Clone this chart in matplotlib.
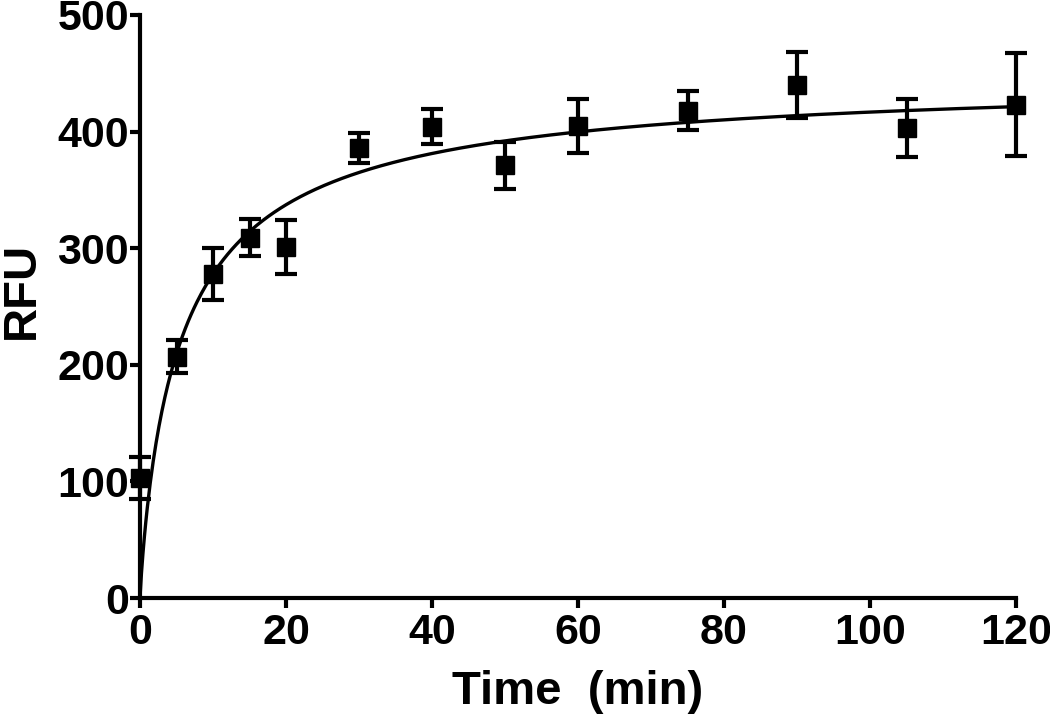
import numpy as np
import matplotlib
matplotlib.use("Agg")
import matplotlib.pyplot as plt

# datos
tiempo = [0, 5, 10, 15, 20, 30, 40, 50, 60, 75, 90, 105, 120]
rfu = [103, 207, 278, 309, 301, 386, 404, 371, 405, 418, 440, 403, 423]
error = [18, 14, 22, 16, 23, 13, 15, 20, 23, 17, 28, 25, 44]

# parametros del ajuste (curva de saturacion)
bmax = 450.0
kd = 5.84
hill = 0.89

plt.rcParams['font.family'] = ['Liberation Sans', 'DejaVu Sans']
plt.rcParams['font.weight'] = 'bold'

fig = plt.figure(figsize=(10.5, 7.17), dpi=100)
ax = fig.add_axes([140 / 1050, 1 - 598 / 717, 876 / 1050, 583 / 717])

xfit = np.linspace(0, 120, 600)
yfit = bmax * xfit**hill / (kd**hill + xfit**hill)
ax.plot(xfit, yfit, color='black', lw=2.4, clip_on=False, zorder=2)

ax.errorbar(tiempo, rfu, yerr=error, fmt='s', color='black', ms=13,
            elinewidth=3, capsize=8, capthick=3, clip_on=False, zorder=3)

ax.set_xlim(0, 120)
ax.set_ylim(0, 500)
ax.set_xticks(np.arange(0, 121, 20))
ax.set_yticks(np.arange(0, 501, 100))

ax.spines['top'].set_visible(False)
ax.spines['right'].set_visible(False)
for s in ['left', 'bottom']:
    ax.spines[s].set_linewidth(3)

ax.tick_params(axis='both', width=3, length=7, labelsize=31)
ax.tick_params(axis='y', pad=1)
ax.tick_params(axis='x', pad=4)
for lab in ax.get_xticklabels() + ax.get_yticklabels():
    lab.set_fontweight('bold')

ax.set_xlabel('Time  (min)', fontsize=34, fontweight='bold')
ax.set_ylabel('RFU', fontsize=34, fontweight='bold')
ax.xaxis.set_label_coords(0.5, -0.161)
ax.xaxis.label.set_verticalalignment('center')
ax.yaxis.set_label_coords(-0.135, 0.527)
ax.yaxis.label.set_verticalalignment('center')

fig.savefig('out.png', dpi=100)
